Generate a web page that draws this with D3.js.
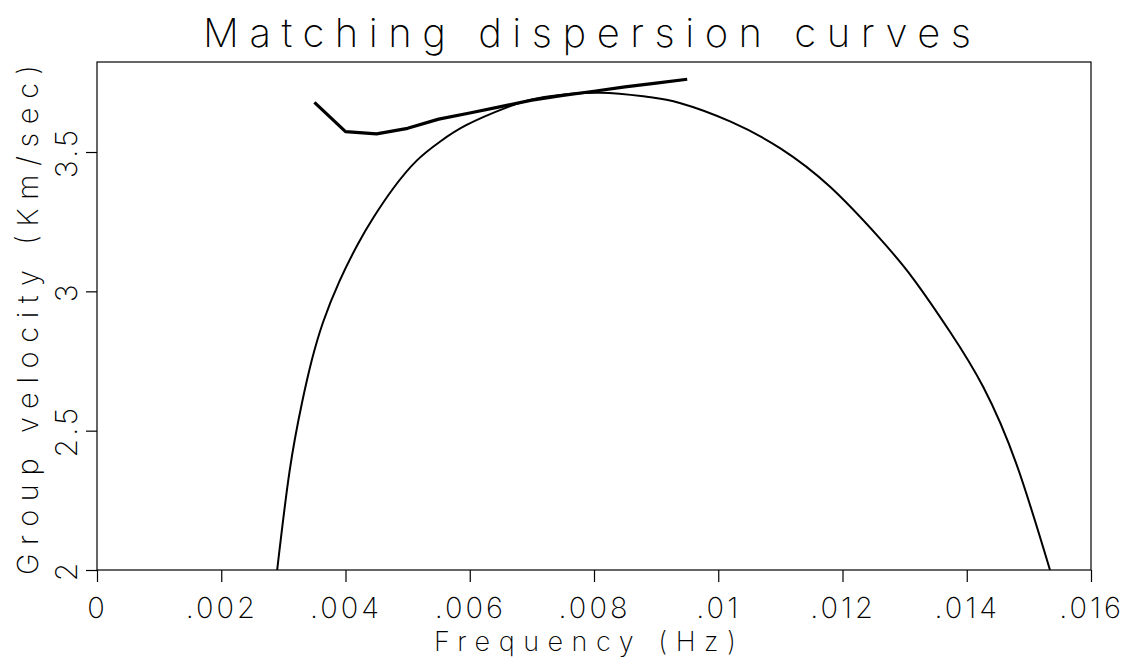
<html>
  <head>
    <title>Matching dispersion curves</title>
    <script src="https://cdn.jsdelivr.net/npm/d3@7"></script>
    <style>
      body { margin: 0; background: #fff; }
      text { font-family: Inter, "DejaVu Sans", sans-serif; font-weight: 200; fill: #000; }
    </style>
  </head>
  <body>
    <svg width="1137" height="664"></svg>
    <script>

      var obsFreq = [0.0035, 0.004, 0.0045, 0.005, 0.0055, 0.006, 0.0065, 0.007, 0.0075, 0.008, 0.0085, 0.009, 0.0095]
      var obsVel  = [3.678, 3.573, 3.565, 3.585, 3.618, 3.640, 3.663, 3.686, 3.703, 3.718, 3.734, 3.747, 3.761]

      // model dispersion curve (thin line)
      var modFreq = [0.0029, 0.0031, 0.0033, 0.00346, 0.00364, 0.0039, 0.0042, 0.00445, 0.00477, 0.00515,
                     0.00552, 0.00595, 0.0066, 0.0072, 0.0081, 0.00885, 0.00938, 0.0102, 0.011, 0.0118,
                     0.0126, 0.01314, 0.01373, 0.01427, 0.0148, 0.01534]
      var modVel  = [2.0, 2.355, 2.60, 2.755, 2.89, 3.035, 3.17, 3.265, 3.37, 3.47,
                     3.537, 3.597, 3.66, 3.697, 3.713, 3.698, 3.676, 3.609, 3.513, 3.375,
                     3.19, 3.045, 2.855, 2.655, 2.38, 2.0]

      var xTicks = [0, 0.002, 0.004, 0.006, 0.008, 0.01, 0.012, 0.014, 0.016]
      var xTickLabels = ['0', '.002', '.004', '.006', '.008', '.01', '.012', '.014', '.016']
      var yTicks = [2, 2.5, 3, 3.5]
      var yTickLabels = ['2', '2.5', '3', '3.5']

      // plot box (window.top is read-only, so no bare "top")
      var plotL = 97, plotT = 62, plotR = 1091, plotB = 570

      var svg = d3.select('svg')

      var x = d3.scaleLinear().domain([0, 0.016]).range([plotL, plotR])
      var y = d3.scaleLinear().domain([2, 3.823]).range([plotB, plotT])

      // frame
        svg.append('rect')
          .attr('x', plotL).attr('y', plotT)
          .attr('width', plotR - plotL).attr('height', plotB - plotT)
          .attr('fill', 'none').attr('stroke', '#000').attr('stroke-width', 1.2)

      // x axis, ticks hang below the frame
        var xAxis = svg.append('g')
          .attr('transform', 'translate(0,' + plotB + ')')
          .call(d3.axisBottom(x).tickValues(xTicks).tickSize(12).tickSizeOuter(0)
            .tickFormat(function(d, i){ return xTickLabels[i] }))
        xAxis.select('.domain').remove()
        xAxis.selectAll('line').attr('stroke', '#000').attr('stroke-width', 1.2)
        xAxis.selectAll('text')
          .attr('y', 48).attr('dy', 0)
          .attr('font-size', 29).attr('letter-spacing', 3)
          .style('font-family', 'Inter, "DejaVu Sans", sans-serif').style('font-weight', 200)

      // y axis, labels turned to read upward
        var yAxis = svg.append('g')
          .attr('transform', 'translate(' + plotL + ',0)')
          .call(d3.axisLeft(y).tickValues(yTicks).tickSize(11).tickSizeOuter(0)
            .tickFormat(function(d, i){ return yTickLabels[i] }))
        yAxis.select('.domain').remove()
        yAxis.selectAll('line').attr('stroke', '#000').attr('stroke-width', 1.2)
        yAxis.selectAll('text')
          .attr('x', 0).attr('y', 0).attr('dy', 0)
          .attr('transform', 'translate(-20,0) rotate(-90)')
          .attr('text-anchor', 'middle')
          .attr('font-size', 30).attr('letter-spacing', 3)
          .style('font-family', 'Inter, "DejaVu Sans", sans-serif').style('font-weight', 200)

      // curves
        var line = d3.line()
          .x(function(d){ return x(d[0]) })
          .y(function(d){ return y(d[1]) })

        svg.append('path')
          .datum(modFreq.map(function(f, i){ return [f, modVel[i]] }))
          .attr('d', line.curve(d3.curveNatural))
          .attr('fill', 'none').attr('stroke', '#000').attr('stroke-width', 2)

        svg.append('path')
          .datum(obsFreq.map(function(f, i){ return [f, obsVel[i]] }))
          .attr('d', line.curve(d3.curveLinear))
          .attr('fill', 'none').attr('stroke', '#000').attr('stroke-width', 3.2)
          .attr('stroke-linejoin', 'round')

      // titles
        svg.append('text')
          .text('Matching dispersion curves')
          .attr('x', 203).attr('y', 47)
          .attr('font-size', 40)
          .attr('textLength', 768).attr('lengthAdjust', 'spacing')

        svg.append('text')
          .text('Frequency (Hz)')
          .attr('x', 434).attr('y', 651)
          .attr('font-size', 27)
          .attr('textLength', 302).attr('lengthAdjust', 'spacing')

        svg.append('text')
          .text('Group velocity (Km/sec)')
          .attr('transform', 'translate(38,575) rotate(-90)')
          .attr('font-size', 29)
          .attr('textLength', 510).attr('lengthAdjust', 'spacing')

    </script>
  </body>
</html>
